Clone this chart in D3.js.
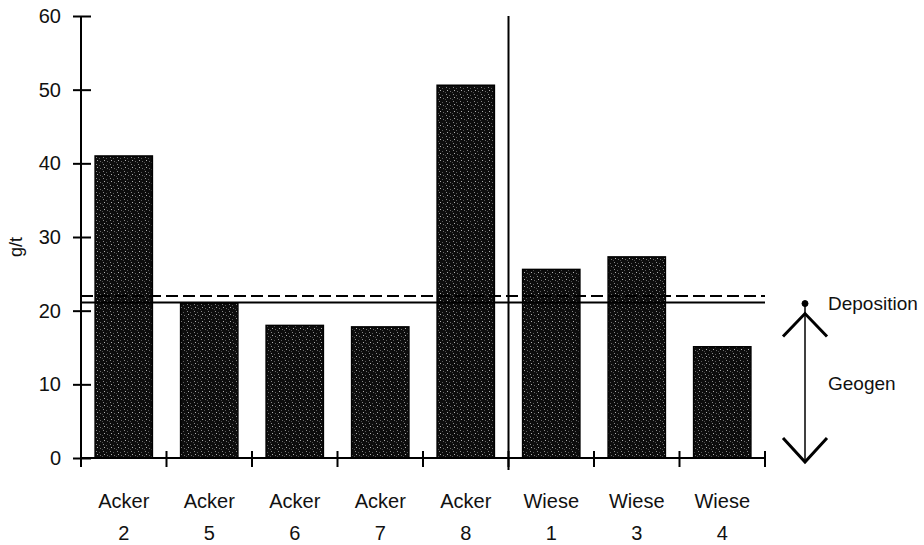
<!DOCTYPE html>
<meta charset="utf-8">
<script src="https://d3js.org/d3.v7.min.js"></script>
<style>
  body { margin: 0; background: #fff; }
  text { font-family: "Liberation Sans", Arial, Helvetica, sans-serif; fill: #111; }
</style>
<div id="chart"></div>
<script>
// data
const categories = ["Acker 2", "Acker 5", "Acker 6", "Acker 7", "Acker 8", "Wiese 1", "Wiese 3", "Wiese 4"];
const values = [41, 21, 18, 17.8, 50.6, 25.6, 27.3, 15.1];
const yTicks = [0, 10, 20, 30, 40, 50, 60];
const solidLevel = 21.1;   // solid reference line
const dashedLevel = 22;    // dashed reference line
const groupSplit = "Wiese 1"; // vertical separator before this category

const W = 924, H = 545;
const margin = {top: 16, right: 159, bottom: 87, left: 81};
const width = W - margin.left - margin.right,
      height = H - margin.top - margin.bottom;

const svg = d3.select("#chart").append("svg")
    .attr("width", W).attr("height", H);

// stipple fill for the bars (fixed dot layout)
const pat = svg.append("defs").append("pattern")
  .attr("id", "stipple")
  .attr("width", 7).attr("height", 7)
  .attr("patternUnits", "userSpaceOnUse");
pat.append("rect").attr("width", 7).attr("height", 7).attr("fill", "#0d0d0d");
[[1, 1, "#8a8a8a"], [4, 2, "#5a5a5a"], [2, 4, "#b0b0b0"], [5, 5, "#6e6e6e"], [0, 6, "#4a4a4a"]]
  .forEach(([px, py, c]) => pat.append("rect")
    .attr("x", px).attr("y", py).attr("width", 1).attr("height", 1).attr("fill", c));

const g = svg.append("g")
    .attr("transform", `translate(${margin.left},${margin.top})`);

const x = d3.scaleBand()
  .domain(categories)
  .range([0, width])
  .paddingInner(0.33)
  .paddingOuter(0.165);

const y = d3.scaleLinear()
  .domain([0, 60])
  .range([height, 0]);

// bars
g.selectAll("rect.bar")
  .data(values)
  .join("rect")
  .attr("class", "bar")
  .attr("x", (d, i) => x(categories[i]))
  .attr("y", d => y(d))
  .attr("width", x.bandwidth())
  .attr("height", d => height - y(d))
  .attr("fill", "url(#stipple)")
  .attr("stroke", "#000")
  .attr("stroke-width", 1.5);

// reference lines
g.append("line")
  .attr("x1", 0).attr("x2", width)
  .attr("y1", y(solidLevel)).attr("y2", y(solidLevel))
  .attr("stroke", "#000").attr("stroke-width", 2);
g.append("line")
  .attr("x1", 0).attr("x2", width)
  .attr("y1", y(dashedLevel)).attr("y2", y(dashedLevel))
  .attr("stroke", "#000").attr("stroke-width", 2)
  .attr("stroke-dasharray", "12,5");

// separator between Acker and Wiese
const sepX = x(groupSplit) - x.step() * x.paddingInner() / 2;
g.append("line")
  .attr("x1", sepX).attr("x2", sepX)
  .attr("y1", 0).attr("y2", height + 12)
  .attr("stroke", "#000").attr("stroke-width", 2);

// y axis with crossing ticks
const yAxis = g.append("g")
  .call(d3.axisLeft(y).tickValues(yTicks).tickSize(8).tickPadding(12))
  .call(s => s.select(".domain").remove());
yAxis.selectAll(".tick line")
  .attr("x1", 10).attr("stroke", "#000").attr("stroke-width", 2);
yAxis.selectAll(".tick text")
  .style("font-size", "20px");
g.append("line")
  .attr("x1", 0).attr("x2", 0)
  .attr("y1", 0).attr("y2", height + 9)
  .attr("stroke", "#000").attr("stroke-width", 2);

// x axis: baseline, ticks at band boundaries
g.append("line")
  .attr("x1", 0).attr("x2", width)
  .attr("y1", height).attr("y2", height)
  .attr("stroke", "#000").attr("stroke-width", 2);
g.selectAll("line.xtick")
  .data(categories.slice(1).concat(["end"]))
  .join("line")
  .attr("class", "xtick")
  .attr("x1", (d, i) => x.step() * (i + 1))
  .attr("x2", (d, i) => x.step() * (i + 1))
  .attr("y1", height - 7).attr("y2", height + 9)
  .attr("stroke", "#000").attr("stroke-width", 2);

// category labels on two lines
const lab = g.selectAll("text.cat")
  .data(categories)
  .join("text")
  .attr("class", "cat")
  .attr("text-anchor", "middle")
  .attr("x", d => x(d) + x.bandwidth() / 2)
  .attr("y", height + 50)
  .style("font-size", "20px");
lab.append("tspan").text(d => d.split(" ")[0]);
lab.append("tspan")
  .attr("x", d => x(d) + x.bandwidth() / 2)
  .attr("dy", 32)
  .text(d => d.split(" ")[1]);

// y label
g.append("text")
  .attr("transform", "rotate(-90)")
  .attr("x", -y(30) - 10)
  .attr("y", -margin.left + 22)
  .attr("text-anchor", "middle")
  .style("font-size", "18px")
  .text("g/t");

// Deposition / Geogen annotation
const ax = width + 40;
const arrTop = y(solidLevel) + 1, arrBot = height + 4;
const ann = g.append("g").attr("stroke", "#000").attr("fill", "none");
ann.append("line")
  .attr("x1", ax).attr("x2", ax)
  .attr("y1", arrTop).attr("y2", arrBot).attr("stroke-width", 1.5);
ann.append("circle")
  .attr("cx", ax).attr("cy", arrTop).attr("r", 3).attr("fill", "#000");
ann.append("path")
  .attr("d", `M${ax - 22},${arrTop + 33} L${ax},${arrTop + 10} L${ax + 22},${arrTop + 33}`)
  .attr("stroke-width", 3);
ann.append("path")
  .attr("d", `M${ax - 22},${arrBot - 24} L${ax},${arrBot} L${ax + 22},${arrBot - 24}`)
  .attr("stroke-width", 3);

g.append("text")
  .attr("x", ax + 23).attr("y", arrTop + 6)
  .style("font-size", "19px")
  .text("Deposition");
g.append("text")
  .attr("x", ax + 23).attr("y", y(10) + 6)
  .style("font-size", "19px")
  .text("Geogen");
</script>
